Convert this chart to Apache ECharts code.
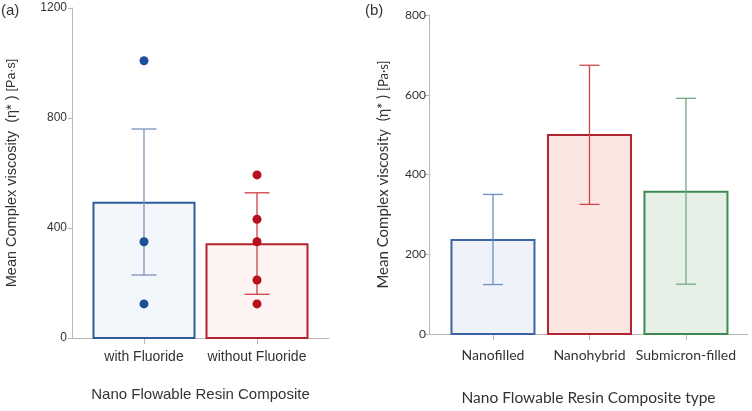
<!DOCTYPE html>
<html><head><meta charset="utf-8">
<script src="https://cdn.jsdelivr.net/npm/echarts@6/dist/echarts.min.js"></script>
<style>html,body{margin:0;padding:0;background:#fff}#c{width:752px;height:411px}</style>
</head><body><div id="c"></div>
<script>
// Panel (a)
const categoriesA = ['with Fluoride', 'without Fluoride'];
const meansA = [492, 341];
const errLowA = [229, 159];
const errHighA = [760, 528];
const pointsWithFluoride = [1008, 350, 124];
const pointsWithoutFluoride = [593, 432, 350, 211, 124];
const yTicksA = [0, 400, 800, 1200];
// Panel (b)
const categoriesB = ['Nanofilled', 'Nanohybrid', 'Submicron-filled'];
const meansB = [236, 499, 357];
const errLowB = [124, 325, 125];
const errHighB = [350, 674, 591];
const yTicksB = [0, 200, 400, 600, 800];

const strokeA = ['#2f5d9c', '#b4232d'];
const fillA = ['#f3f7fc', '#fdf3f3'];
const errA = ['#7b93b8', '#cf3f45'];
const dotA = ['#1c4f93', '#b5101c'];
const strokeB = ['#3a64a3', '#b1232d', '#3f8a52'];
const fillB = ['#eff3f9', '#fce6e2', '#e6f0e6'];
const errB = ['#6d8dbd', '#d0464a', '#78a882'];

const axisCol = '#bdb5b5';
const txt = '#333';

function barItem(width, strokes, fills) {
  return function (params, api) {
    const i = params.dataIndex;
    const x = api.value(0), y = api.value(1);
    const p0 = api.coord([x, 0]);
    const p1 = api.coord([x, y]);
    return {
      type: 'rect',
      shape: { x: p0[0] - width / 2, y: p1[1], width: width, height: p0[1] - p1[1] },
      style: { fill: fills[i], stroke: strokes[i], lineWidth: 2 }
    };
  };
}
function errItem(cap, cols) {
  return function (params, api) {
    const i = params.dataIndex;
    const x = api.value(0);
    const lo = api.coord([x, api.value(1)]);
    const hi = api.coord([x, api.value(2)]);
    const st = { stroke: cols[i], lineWidth: 1.3 };
    return {
      type: 'group',
      children: [
        { type: 'line', shape: { x1: lo[0], y1: lo[1], x2: hi[0], y2: hi[1] }, style: st },
        { type: 'line', shape: { x1: lo[0] - cap / 2, y1: lo[1], x2: lo[0] + cap / 2, y2: lo[1] }, style: st },
        { type: 'line', shape: { x1: hi[0] - cap / 2, y1: hi[1], x2: hi[0] + cap / 2, y2: hi[1] }, style: st }
      ]
    };
  };
}

function xAxisDef(gi, cats, min, max, name, font, nameGap, labSize, nameSize, margin) {
  const vals = cats.map((c, i) => i);
  return {
    gridIndex: gi, type: 'value', min: min, max: max,
    axisLine: { show: true, onZero: false, lineStyle: { color: axisCol, width: 1 } },
    axisTick: { show: true, customValues: vals, length: 6, lineStyle: { color: axisCol } },
    axisLabel: { show: true, customValues: vals, formatter: v => cats[Math.round(v)] ?? '', color: txt, fontSize: labSize, fontFamily: font, margin: margin },
    splitLine: { show: false },
    name: name, nameLocation: 'middle', nameGap: nameGap,
    nameTextStyle: { color: txt, fontSize: nameSize, fontFamily: font }
  };
}
function yAxisDef(gi, ticks, font, nameGap, sa, sb, margin) {
  return {
    gridIndex: gi, type: 'value', min: ticks[0], max: ticks[ticks.length - 1], interval: ticks[1] - ticks[0],
    axisLine: { show: true, onZero: false, lineStyle: { color: axisCol, width: 1 } },
    axisTick: { show: true, length: 4, lineStyle: { color: axisCol } },
    axisLabel: { color: txt, fontSize: 12, fontFamily: font, margin: margin, formatter: v => String(v) },
    splitLine: { show: false },
    name: '{a|Mean Complex viscosity  (η* ) }{b|[Pa·s]}',
    nameLocation: 'middle', nameGap: nameGap,
    nameTextStyle: { color: txt, fontFamily: font,
      rich: { a: { fontSize: sa, fontFamily: font, color: txt }, b: { fontSize: sb, fontFamily: font, color: txt } } }
  };
}

const fontA = 'Liberation Sans, Arial, sans-serif';
const fontB = 'Lato, Noto Sans, sans-serif';

const chart = echarts.init(document.getElementById('c'), null, { renderer: 'canvas' });
chart.setOption({
  animation: false,
  backgroundColor: '#fff',
  grid: [
    { left: 72, top: 8, width: 257, bottom: 73 },
    { left: 429, top: 15, width: 319, bottom: 73 }
  ],
  xAxis: [
    xAxisDef(0, categoriesA, -0.637, 1.637, 'Nano Flowable Resin Composite', fontA, 49, 14, 15, 12),
    xAxisDef(1, categoriesB, -0.663, 2.643, 'Nano Flowable Resin Composite type', fontB, 56, 14, 15.5, 14)
  ],
  yAxis: [
    yAxisDef(0, yTicksA, fontA, 53, 14.5, 12.5, 5),
    yAxisDef(1, yTicksB, fontB, 38, 15, 13, 3)
  ],
  graphic: [
    { type: 'text', left: 1, top: 3, style: { text: '(a)', fontSize: 15, fontFamily: fontA, fill: txt } },
    { type: 'text', left: 365, top: 3, style: { text: '(b)', fontSize: 15, fontFamily: fontA, fill: txt } }
  ],
  series: [
    { type: 'custom', xAxisIndex: 0, yAxisIndex: 0, z: 2, renderItem: barItem(101, strokeA, fillA),
      data: meansA.map((v, i) => [i, v]) },
    { type: 'custom', xAxisIndex: 0, yAxisIndex: 0, z: 3, renderItem: errItem(25, errA),
      data: meansA.map((v, i) => [i, errLowA[i], errHighA[i]]) },
    { type: 'scatter', xAxisIndex: 0, yAxisIndex: 0, z: 4, symbolSize: 9, itemStyle: { color: dotA[0], opacity: 1 },
      data: pointsWithFluoride.map(v => [0, v]) },
    { type: 'scatter', xAxisIndex: 0, yAxisIndex: 0, z: 4, symbolSize: 9, itemStyle: { color: dotA[1], opacity: 1 },
      data: pointsWithoutFluoride.map(v => [1, v]) },
    { type: 'custom', xAxisIndex: 1, yAxisIndex: 1, z: 2, renderItem: barItem(83, strokeB, fillB),
      data: meansB.map((v, i) => [i, v]) },
    { type: 'custom', xAxisIndex: 1, yAxisIndex: 1, z: 3, renderItem: errItem(20, errB),
      data: meansB.map((v, i) => [i, errLowB[i], errHighB[i]]) }
  ]
});
</script></body></html>
